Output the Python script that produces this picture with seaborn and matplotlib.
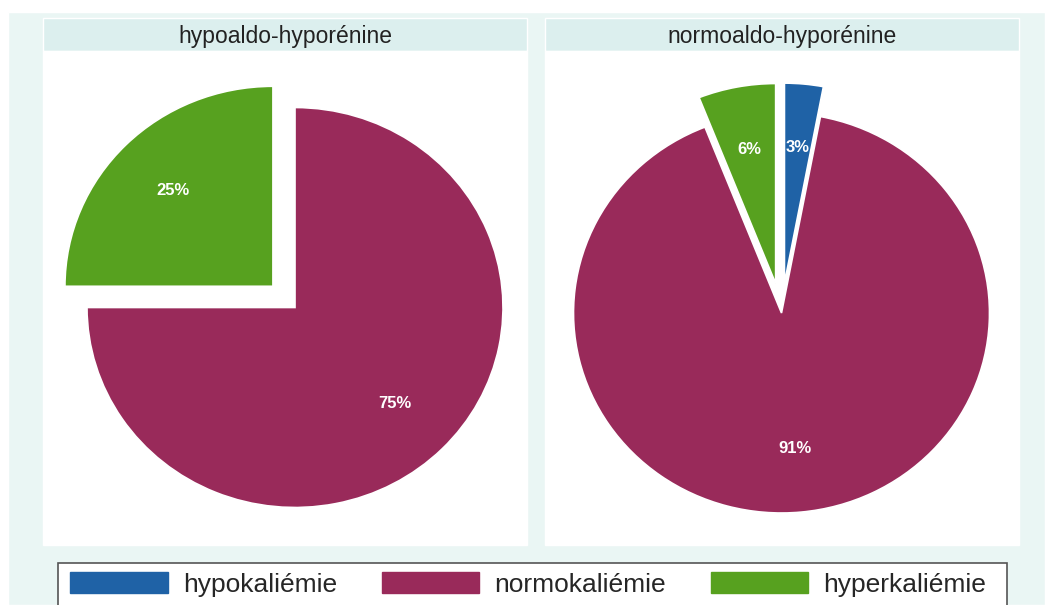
import matplotlib
matplotlib.use("Agg")
import matplotlib.pyplot as plt
from matplotlib.patches import Rectangle, Patch
import seaborn as sns

# Potassium status by renin/aldosterone profile
categories = ["hypokaliémie", "normokaliémie", "hyperkaliémie"]
panels = ["hypoaldo-hyporénine", "normoaldo-hyporénine"]
pct_hypoaldo = [0, 75, 25]
pct_normoaldo = [3, 91, 6]
explode_hypoaldo = [0.15, 0, 0.15]
explode_normoaldo = [0.15, 0, 0.15]

sns.set_theme(style="white")
plt.rcParams["font.family"] = ["Liberation Sans", "DejaVu Sans"]

colors = sns.color_palette(["#1F62A6", "#992A5A", "#57A11F"])

W, H = 1045, 605
fig = plt.figure(figsize=(W / 100, H / 100), dpi=100, facecolor="white")


def fx(x):
    return x / W


def fy(y):
    return 1 - y / H


def rect(x0, y0, x1, y1, color, z=-10, **kw):
    fig.patches.append(Rectangle((fx(x0), fy(y1)), fx(x1) - fx(x0), fy(y0) - fy(y1),
                                 transform=fig.transFigure, facecolor=color,
                                 zorder=z, **kw))


# outer graph region
rect(8, 12, W, H, "#EAF6F4", z=-20)

panel_bounds = [(43, 527), (545, 1019)]
for (x0, x1), title in zip(panel_bounds, panels):
    rect(x0, 18, x1, 51, "#DCEFEE")
    rect(x0, 51, x1, 545, "white")
    fig.text(fx((x0 + x1) / 2), fy(37), title, ha="center", va="center",
             fontsize=16.5, color="#222222", zorder=5)

# pie centres and radii in pixels
centers = [(295, 307.5), (781.5, 313)]
rx, ry = 208, 200
S = 250  # half-size of the pie axes, px
datasets = [(pct_hypoaldo, explode_hypoaldo), (pct_normoaldo, explode_normoaldo)]

for (cx, cy), (vals, expl) in zip(centers, datasets):
    ax = fig.add_axes([fx(cx - S), fy(cy + S), 2 * S / W, 2 * S / H])
    ax.set_zorder(3)
    ax.set_facecolor("none")
    wedges, texts, autotexts = ax.pie(
        vals, explode=expl, colors=colors, startangle=90, counterclock=False,
        autopct=lambda p: f"{p:.0f}%" if p > 0.5 else "", pctdistance=0.68,
        wedgeprops=dict(edgecolor="white", linewidth=1.2),
        textprops=dict(color="white", fontsize=12, fontweight="bold"),
    )
    ax.set_aspect("auto")
    ax.set_xlim(-S / rx, S / rx)
    ax.set_ylim(-S / ry, S / ry)
    ax.axis("off")

# legend box
rect(58, 563, 1007, 612, "white", z=4, edgecolor="#555555", linewidth=1.2)
handles = [Patch(facecolor=c, edgecolor=c) for c in colors]
leg = fig.legend(handles, categories, loc="upper left", ncol=3,
                 bbox_to_anchor=(fx(70), fy(572)),
                 fontsize=19, handlelength=3.7, handleheight=0.85,
                 handletextpad=0.57, columnspacing=1.7, borderpad=0,
                 borderaxespad=0, frameon=False)
leg.set_zorder(6)

fig.savefig("out.png", dpi=100, facecolor="white")
